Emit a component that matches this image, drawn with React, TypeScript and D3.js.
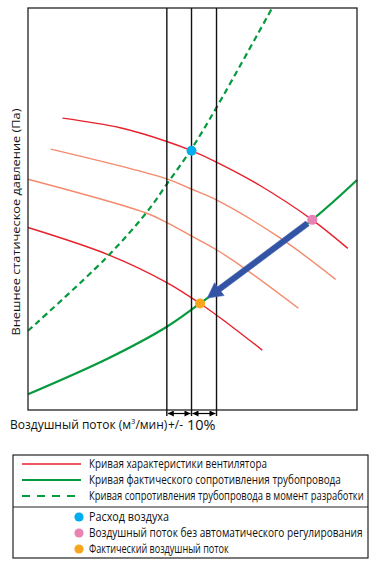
import React from 'react';
import * as d3 from 'd3';

// curve points: [flow, pressure] in 0..100 chart units
const fanCurveTop: [number, number][] = [
  [10.5, 72.6], [28.0, 70.2], [42.2, 66.8], [49.7, 64.5], [57.4, 61.6], [70.5, 55.85], [86.4, 47.3], [97.2, 40.2],
];
const fanCurveMid: [number, number][] = [
  [6.9, 64.9], [42.2, 57.5], [49.2, 55.1], [57.4, 52.2], [76.6, 42.8], [93.5, 32.5],
];
const fanCurveLow: [number, number][] = [
  [0, 57.4], [35.9, 49.0], [42.2, 46.6], [49.2, 43.5], [57.4, 39.8], [65.7, 35.3], [82.2, 25.3],
];
const fanCurveBottom: [number, number][] = [
  [0, 45.4], [24.5, 38.6], [42.2, 31.7], [52.3, 26.5], [59.3, 22.4], [71.2, 14.9],
];
const ductActual: [number, number][] = [
  [0, 3.9], [24.3, 12.8], [42.2, 20.7], [52.3, 26.5], [86.4, 47.3], [100, 57.2],
];
const ductDesign: [number, number][] = [
  [0, 19.7], [23.7, 37.8], [35.9, 49.0], [42.2, 56.2], [49.5, 64.7], [57.4, 75.4], [74.2, 100],
];
const guideX = [42.2, 49.7, 57.3];
const pointDesign: [number, number] = [49.7, 64.5];
const pointNoControl: [number, number] = [86.4, 47.3];
const pointActual: [number, number] = [52.3, 26.5];

const lineLegend = [
  { label: 'Кривая характеристики вентилятора', color: '#e8212b', dash: '', width: 1.4, len: 178 },
  { label: 'Кривая фактического сопротивления трубопровода', color: '#069a3e', dash: '', width: 2.2, len: 252 },
  { label: 'Кривая сопротивления трубопровода в момент разработки', color: '#069a3e', dash: '8,7', width: 2.2, len: 275 },
];
const dotLegend = [
  { label: 'Расход воздуха', color: '#00aeef', len: 80 },
  { label: 'Воздушный поток без автоматического регулирования', color: '#e883b6', len: 274 },
  { label: 'Фактический воздушный поток', color: '#f9a61c', len: 140 },
];

const RED = '#e8212b';
const SALMON = '#f48a6c';
const GREEN = '#069a3e';
const FONT = "'Open Sans', 'Noto Sans', sans-serif";

// text squeezed horizontally to a given width (the original uses a condensed face)
const FitText = ({ x, y, width, children, ...rest }: any) => {
  const ref = React.useRef<SVGTextElement>(null);
  const [k, setK] = React.useState(1);
  React.useLayoutEffect(() => {
    if (!ref.current) return;
    const w = ref.current.getComputedTextLength();
    if (w > 0) setK(width / w);
  }, [width, children]);
  return (
    <text ref={ref} transform={`translate(${x},${y}) scale(${k},1)`} {...rest}>
      {children}
    </text>
  );
};

const App = () => {
  const x = d3.scaleLinear().domain([0, 100]).range([28, 357]);
  const y = d3.scaleLinear().domain([0, 100]).range([410, 8]);
  const line = d3
    .line<[number, number]>()
    .x((d) => x(d[0]))
    .y((d) => y(d[1]))
    .curve(d3.curveCatmullRom.alpha(0.5));

  // arrow from the pink point to the orange one
  const p0 = [x(pointNoControl[0]), y(pointNoControl[1])];
  const p1 = [x(pointActual[0]), y(pointActual[1])];
  const len = Math.hypot(p1[0] - p0[0], p1[1] - p0[1]);
  const ux = (p1[0] - p0[0]) / len;
  const uy = (p1[1] - p0[1]) / len;
  const nx = -uy;
  const ny = ux;
  const tail = [p0[0] + ux * 6, p0[1] + uy * 6];
  const tip = [p1[0] - ux * 9, p1[1] - uy * 9];
  const headLen = 15;
  const base = [tip[0] - ux * headLen, tip[1] - uy * headLen];
  const sw = 2.9;
  const hw = 8;
  const arrowPts = [
    [tail[0] + nx * sw, tail[1] + ny * sw],
    [base[0] + nx * sw, base[1] + ny * sw],
    [base[0] + nx * hw, base[1] + ny * hw],
    tip,
    [base[0] - nx * hw, base[1] - ny * hw],
    [base[0] - nx * sw, base[1] - ny * sw],
    [tail[0] - nx * sw, tail[1] - ny * sw],
  ];

  const arrowY = 413.5;

  return (
    <svg width={384} height={572} style={{ position: 'absolute', left: 0, top: 0, background: '#fff' }}>
      <defs>
        <marker id="ah" viewBox="0 0 10 10" refX="10" refY="5" markerWidth="7" markerHeight="6" orient="auto-start-reverse" markerUnits="userSpaceOnUse">
          <path d="M0,0 L10,5 L0,10 z" fill="#000" />
        </marker>
      </defs>

      {/* curves */}
      <path d={line(fanCurveTop) || ''} fill="none" stroke={RED} strokeWidth={1.4} />
      <path d={line(fanCurveMid) || ''} fill="none" stroke={SALMON} strokeWidth={1.4} />
      <path d={line(fanCurveLow) || ''} fill="none" stroke={SALMON} strokeWidth={1.4} />
      <path d={line(fanCurveBottom) || ''} fill="none" stroke={RED} strokeWidth={1.4} />
      <path d={line(ductActual) || ''} fill="none" stroke={GREEN} strokeWidth={2.2} />
      <path d={line(ductDesign) || ''} fill="none" stroke={GREEN} strokeWidth={2.2} strokeDasharray="6,4" />

      {/* frame */}
      <rect x={x(0)} y={y(100)} width={x(100) - x(0)} height={y(0) - y(100)} fill="none" stroke="#222" strokeWidth={1.3} />

      {/* +/- 10% guides */}
      {guideX.map((g, i) => (
        <line key={i} x1={x(g)} x2={x(g)} y1={y(100)} y2={416} stroke="#111" strokeWidth={1.4} />
      ))}
      {guideX.slice(0, -1).map((g, i) => (
        <line
          key={'a' + i}
          x1={x(g) + 1}
          x2={x(guideX[i + 1]) - 1}
          y1={arrowY}
          y2={arrowY}
          stroke="#000"
          strokeWidth={1.2}
          markerStart="url(#ah)"
          markerEnd="url(#ah)"
        />
      ))}

      {/* arrow */}
      <polygon points={arrowPts.map((p) => p.join(',')).join(' ')} fill="#3354a4" stroke="#4a67b0" strokeWidth={0.6} />

      {/* operating points */}
      <circle cx={x(pointDesign[0])} cy={y(pointDesign[1])} r={5} fill="#00aeef" />
      <circle cx={x(pointNoControl[0])} cy={y(pointNoControl[1])} r={5} fill="#e883b6" />
      <circle cx={x(pointActual[0])} cy={y(pointActual[1])} r={5} fill="#f9a61c" />

      {/* axis titles */}
      <text
        transform={`translate(20,${(y(0) + y(100)) / 2 + 13}) rotate(-90)`}
        textAnchor="middle"
        fontFamily={FONT}
        fontSize={11.5}
        fill="#111"
        textLength={227}
        lengthAdjust="spacingAndGlyphs"
      >
        Внешнее статическое давление (Па)
      </text>
      <text x={10} y={429} fontFamily={FONT} fontSize={12} fill="#111">
        Воздушный поток (м
        <tspan fontSize={7.5} dy={-5}>3</tspan>
        <tspan dy={5}>/мин)</tspan>
      </text>
      <text x={168} y={429} fontFamily={FONT} fontSize={12} fill="#111">+/-</text>
      <text x={187} y={430} fontFamily={FONT} fontSize={14.5} fill="#111">10%</text>

      {/* legend */}
      <rect x={13} y={455} width={355} height={103} fill="none" stroke="#222" strokeWidth={1.2} />
      <line x1={13} x2={368} y1={507} y2={507} stroke="#222" strokeWidth={1.2} />
      {lineLegend.map((d, i) => {
        const ly = 464 + i * 16;
        return (
          <g key={d.label}>
            <line x1={22} x2={81} y1={ly} y2={ly} stroke={d.color} strokeWidth={d.width} strokeDasharray={d.dash || undefined} />
            <FitText x={89} y={ly + 4} width={d.len} fontFamily={FONT} fontSize={12} fill="#111">
              {d.label}
            </FitText>
          </g>
        );
      })}
      {dotLegend.map((d, i) => {
        const ly = 517 + i * 16;
        return (
          <g key={d.label}>
            <circle cx={79} cy={ly} r={4.6} fill={d.color} />
            <FitText x={89} y={ly + 4} width={d.len} fontFamily={FONT} fontSize={12} fill="#111">
              {d.label}
            </FitText>
          </g>
        );
      })}
    </svg>
  );
};

export default App;
